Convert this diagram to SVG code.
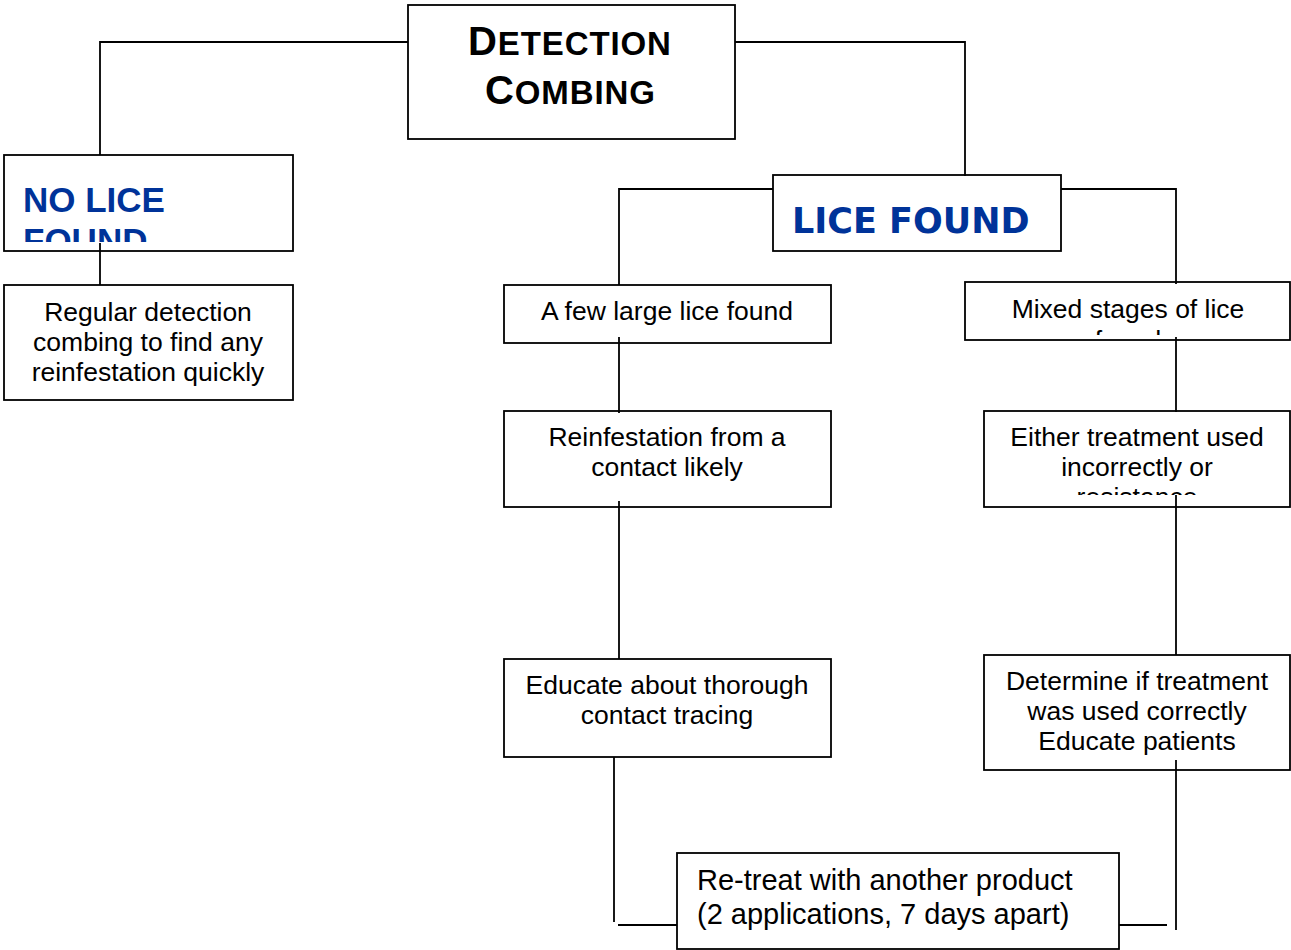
<svg xmlns="http://www.w3.org/2000/svg" width="1291" height="950" viewBox="0 0 1291 950">
<style>
.box{fill:#fff;stroke:#000;stroke-width:1.8}
.t{font-family:"Liberation Sans",Arial,sans-serif;font-size:26.5px;fill:#000;text-anchor:middle}
.tl{font-family:"Liberation Sans",Arial,sans-serif;font-size:29px;fill:#000}
.title{font-family:"Liberation Sans",Arial,sans-serif;font-weight:bold;fill:#000;letter-spacing:0.9px}
.blueA{font-family:"Liberation Sans",Arial,sans-serif;font-weight:bold;font-size:35px;fill:#003399}
.blueB{font-family:"DejaVu Sans",Verdana,sans-serif;font-weight:bold;font-size:35px;fill:#003399}
.c{fill:none;stroke:#000;stroke-width:1.8}
</style>
<defs>
<clipPath id="clipNo"><rect x="4" y="155" width="289" height="87"/></clipPath>
<clipPath id="clipMixed"><rect x="965" y="282" width="325" height="53"/></clipPath>
<clipPath id="clipEither"><rect x="984" y="411" width="306" height="84"/></clipPath>
</defs>
<rect width="1291" height="950" fill="#fff"/>

<g id="detection">
<rect class="box" x="408" y="5" width="327" height="134"/>
<text class="title" x="468" y="55"><tspan font-size="40">D</tspan><tspan font-size="33">ETECTION</tspan></text>
<text class="title" x="485" y="104"><tspan font-size="40">C</tspan><tspan font-size="33">OMBING</tspan></text>
</g>

<g id="no-lice">
<rect class="box" x="4" y="155" width="289" height="96"/>
<g clip-path="url(#clipNo)">
<text class="blueA" x="23" y="212">NO LICE</text>
<text class="blueA" x="23" y="253">FOUND</text>
</g>
</g>

<g id="regular">
<rect class="box" x="4" y="285" width="289" height="115"/>
<text class="t" x="148" y="321">Regular detection</text>
<text class="t" x="148" y="351">combing to find any</text>
<text class="t" x="148" y="381">reinfestation quickly</text>
</g>

<g id="lice-found">
<rect class="box" x="773" y="175" width="288" height="76"/>
<text class="blueB" x="792" y="233">LICE FOUND</text>
</g>

<g id="few-large">
<rect class="box" x="504" y="285" width="327" height="58"/>
<text class="t" x="667" y="320">A few large lice found</text>
</g>

<g id="mixed">
<rect class="box" x="965" y="282" width="325" height="58"/>
<g clip-path="url(#clipMixed)">
<text class="t" x="1128" y="318">Mixed stages of lice</text>
<text class="t" x="1128" y="349">found</text>
</g>
</g>

<g id="reinfestation">
<rect class="box" x="504" y="411" width="327" height="96"/>
<text class="t" x="667" y="446">Reinfestation from a</text>
<text class="t" x="667" y="476">contact likely</text>
</g>

<g id="either">
<rect class="box" x="984" y="411" width="306" height="96"/>
<g clip-path="url(#clipEither)">
<text class="t" x="1137" y="446">Either treatment used</text>
<text class="t" x="1137" y="476">incorrectly or</text>
<text class="t" x="1137" y="506">resistance</text>
</g>
</g>

<g id="educate">
<rect class="box" x="504" y="659" width="327" height="98"/>
<text class="t" x="667" y="694">Educate about thorough</text>
<text class="t" x="667" y="724">contact tracing</text>
</g>

<g id="determine">
<rect class="box" x="984" y="655" width="306" height="115"/>
<text class="t" x="1137" y="690">Determine if treatment</text>
<text class="t" x="1137" y="720">was used correctly</text>
<text class="t" x="1137" y="750">Educate patients</text>
</g>

<g id="retreat">
<rect class="box" x="677" y="853" width="442" height="96"/>
<text class="tl" x="697" y="890">Re-treat with another product</text>
<text class="tl" x="697" y="924">(2 applications, 7 days apart)</text>
</g>

<g id="connectors">
<polyline class="c" points="408,42 100,42 100,155"/>
<polyline class="c" points="735,42 965,42 965,176"/>
<line class="c" x1="100" y1="243" x2="100" y2="285"/>
<polyline class="c" points="773,189 619,189 619,285"/>
<polyline class="c" points="1061,189 1176,189 1176,284"/>
<line class="c" x1="619" y1="337" x2="619" y2="413"/>
<line class="c" x1="1176" y1="337" x2="1176" y2="412"/>
<line class="c" x1="619" y1="501" x2="619" y2="659"/>
<line class="c" x1="1176" y1="495" x2="1176" y2="655"/>
<line class="c" x1="614" y1="757" x2="614" y2="922"/>
<line class="c" x1="618" y1="925" x2="677" y2="925"/>
<line class="c" x1="1176" y1="760" x2="1176" y2="930"/>
<line class="c" x1="1119" y1="925" x2="1167" y2="925"/>
</g>
</svg>
